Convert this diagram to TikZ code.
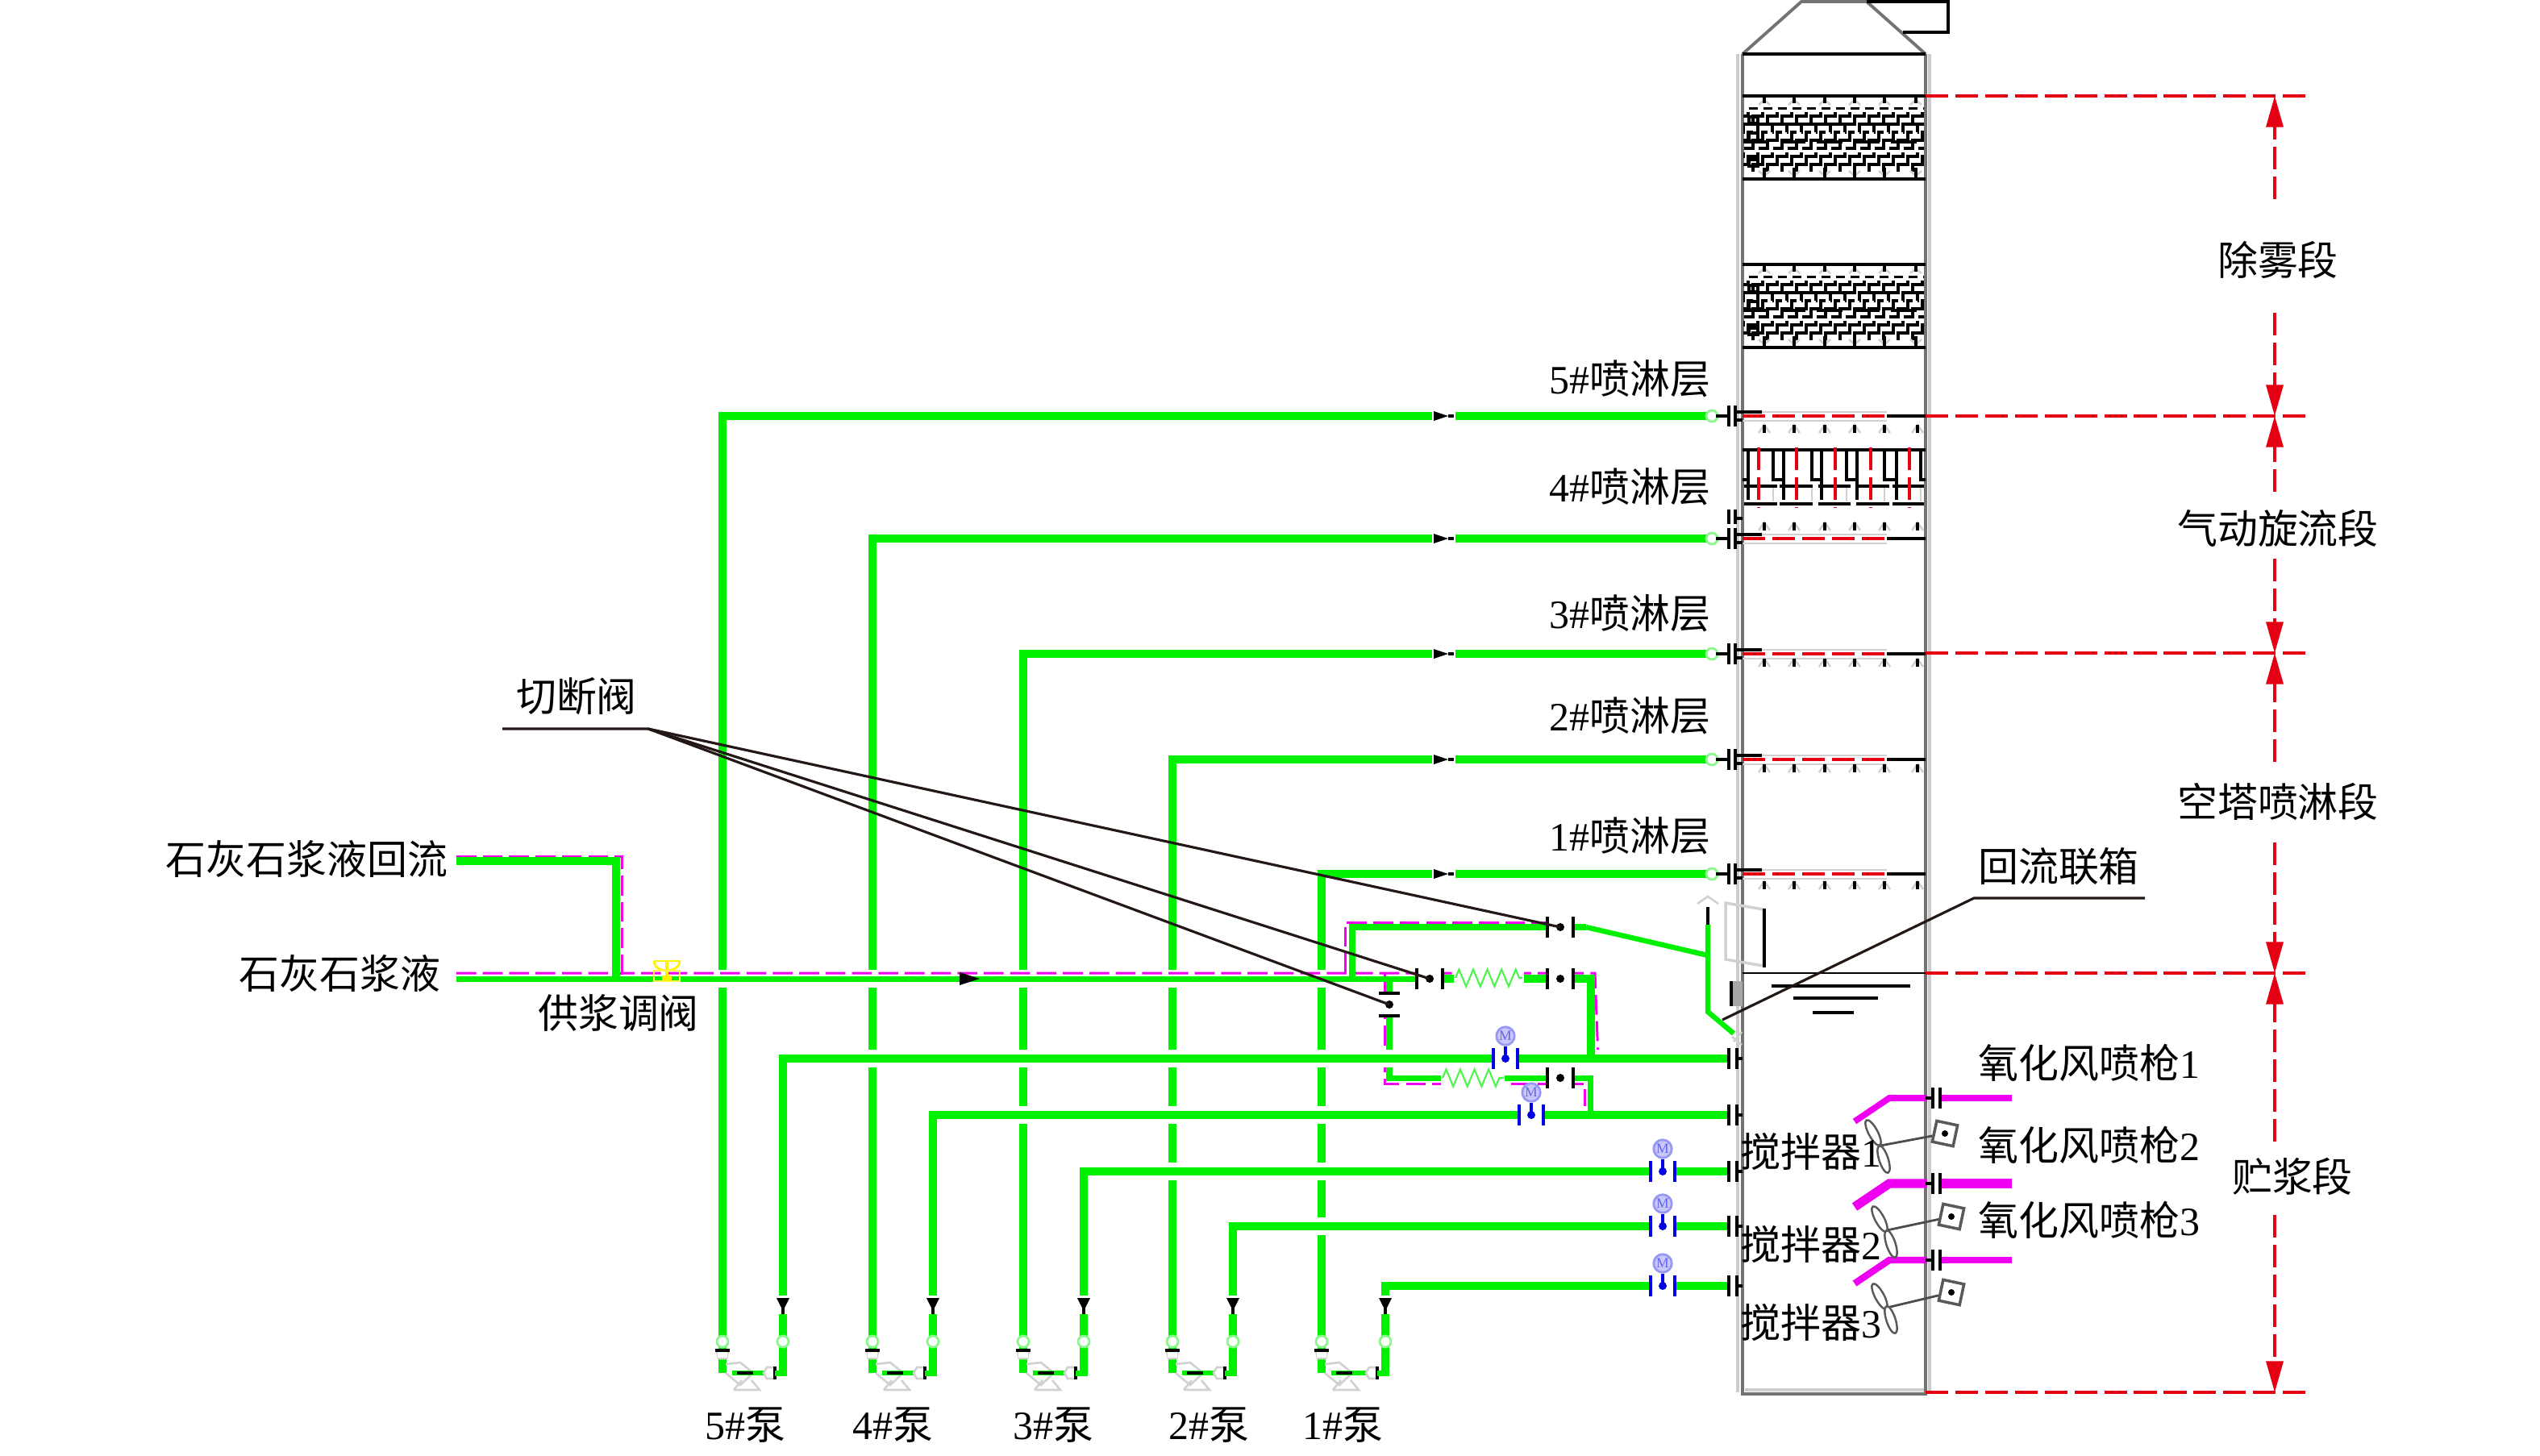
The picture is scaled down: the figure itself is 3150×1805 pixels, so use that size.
\documentclass[tikz,border=0pt]{standalone}
\usepackage{fontspec}
\setmainfont{Liberation Serif}
\newfontfamily\cjk{Noto Sans CJK SC}
\usetikzlibrary{shapes.geometric, arrows.meta, decorations.pathmorphing}
\definecolor{pipegreen}{RGB}{0,240,0}
\definecolor{airpink}{RGB}{240,0,240}
\definecolor{secred}{RGB}{228,0,18}
\definecolor{meterblue}{RGB}{0,0,225}
\definecolor{leaderdark}{RGB}{35,24,21}

\begin{document}
\begin{tikzpicture}[
    x=0.01cm, y=-0.01cm,
    every node/.style={font=\fontsize{14.2}{16}\selectfont, inner sep=0pt},
    pipe/.style={draw=pipegreen, line width=2.8pt},
    thinpipe/.style={draw=pipegreen, line width=2pt},
    casing/.style={draw=white, line width=6.3pt},
    slurry/.style={draw=airpink, line width=0.85pt, dash pattern=on 7pt off 2.3pt},
    air/.style={draw=airpink, line width=2.4pt},
    wall/.style={draw=black!55, line width=1.1pt},
    wallshade/.style={draw=black!20, line width=1pt},
    blackline/.style={draw=black, line width=0.95pt},
    faint/.style={draw=black!18, line width=0.75pt},
    flange/.style={draw=black, line width=0.9pt},
    maze/.style={draw=black, line width=1pt},
    secline/.style={draw=secred, line width=0.9pt, dash pattern=on 8pt off 2.5pt},
    dimline/.style={secline, -{Triangle[length=11pt, width=6pt]}},
    leader/.style={draw=leaderdark, line width=0.9pt},
    blade/.style={draw=black!65, ellipse, fill=white, line width=0.7pt, minimum width=10pt, minimum height=3.2pt},
    motor/.style={draw=black!65, fill=white, line width=1pt, minimum size=7.5pt, rotate=-12},
    ring/.style={draw=pipegreen!45, fill=white, line width=0.8pt, circle, minimum size=4pt},
    meter/.style={draw=meterblue!40, fill=meterblue!22, line width=0.8pt, circle, minimum size=6.4pt}
]
% Tower shell and roof
\draw[wallshade] (2155,67) -- (2155,1727);
\draw[wallshade] (2393,67) -- (2393,1727);
\draw[wall] (2161,67) -- (2161,1729) -- (2388,1729) -- (2388,67);
\draw[wallshade] (2164,1724) -- (2386,1724);
\draw[wall] (2161,67) -- (2234,2) -- (2315,2) -- (2388,67);
\draw[blackline] (2315,2) -- (2416,2) -- (2416,40) -- (2360,40);
\draw[blackline] (2161,67) -- (2388,67);
% Demister beds
\foreach \dy in {0,209} {
  \begin{scope}[shift={(0,\dy)}]
    \draw[blackline] (2161,119) -- (2388,119);
    \draw[blackline] (2161,222) -- (2388,222);
    \begin{scope}
      \clip (2162,133) rectangle (2386,212);
      \foreach \sx in {2048,2066,...,2390}
        \draw[maze, dash pattern=on 14pt off 1.6pt] (\sx,214) |- ++(12,-10) |- ++(12,-10) |- ++(12,-10) |- ++(12,-10) |- ++(12,-10) |- ++(12,-10) |- ++(12,-10) |- ++(12,-10);
      \draw[maze, dash pattern=on 11pt off 3pt] (2162,154) -- (2386,154);
      \draw[maze, dash pattern=on 9pt off 4pt] (2162,176) -- (2386,176);
      \draw[maze] (2169,145) rectangle (2180,153);
      \draw[maze] (2169,165) rectangle (2180,175);
      \draw[maze] (2169,198) rectangle (2180,206);
    \end{scope}
    \foreach \nx in {2188,2225,2263,2300,2337,2376} {
      \draw[faint] (\nx-7,130) -- (\nx,124) -- (\nx+7,130);
      \draw[faint] (\nx-7,212) -- (\nx,218) -- (\nx+7,212);
      \draw[maze] (\nx,119) -- (\nx,128);
      \draw[maze] (\nx,208) -- (\nx,222);
    }
  \end{scope}
}
% Swirl section
\draw[blackline] (2161,558) -- (2388,558);
\draw[blackline] (2161,595) -- (2168,595);
\foreach \la/\lb/\lc in {2168/2199/2212, 2212/2247/2259, 2259/2290/2303, 2303/2337/2352, 2352/2382/2388} {
  \draw[blackline] (\la,558) -- (\la,620);
  \draw[blackline] (\lb,558) -- (\lb,595) -- (\lc,595);
  \draw[faint] (\lb,603) -- (\lb,622);
}
\foreach \sa/\sb in {2163/2204, 2207/2248, 2255/2295, 2302/2343, 2347/2386} {
  \draw[blackline] (\sa,603) -- (\sb,603);
  \draw[blackline] (\sa,625) -- (\sb,625);
}
\foreach \rx in {2181,2228,2276,2320,2368}
  \draw[secline] (\rx,555) -- (\rx,630);
% Spray levels inside the tower
\foreach \ly/\ny in {516/532, 668/653, 811/822, 942/953, 1084/1098} {
  \draw[faint] (2161,\ly-5) -- (2340,\ly-5);
  \draw[faint] (2161,\ly+6) -- (2340,\ly+6);
  \draw[blackline] (2340,\ly) -- (2388,\ly);
  \draw[secline] (2161,\ly) -- (2343,\ly);
  \foreach \nx in {2188,2225,2263,2300,2337,2378} {
    \draw[faint] (\nx-7,\ny+5) -- (\nx,\ny-5) -- (\nx+7,\ny+5);
    \draw[maze] (\nx,\ny-5) -- (\nx,\ny+5);
  }
}
% Header box and liquid level
\draw[faint, line width=1pt] (2140,1120) -- (2187,1128) -- (2187,1198) -- (2140,1190) -- cycle;
\draw[blackline] (2188,1127) -- (2188,1200);
\draw[blackline, line width=0.7pt] (2161,1207) -- (2388,1207);
\draw[blackline] (2197,1223) -- (2369,1223);
\draw[blackline] (2224,1238) -- (2329,1238);
\draw[blackline] (2248,1256) -- (2299,1256);
\fill[black!35] (2149,1217) rectangle (2161,1248);
\draw[flange] (2147,1217) -- (2147,1248);
% Section dimension lines
\foreach \sy in {119,516,810,1207,1727}
  \draw[secline] (2388,\sy) -- (2862,\sy);
\foreach \ya/\gapa/\gapb/\yb in {119/247/388/516, 516/610/693/810, 810/945/1045/1207, 1207/1416/1507/1727} {
  \coordinate (dimTop\ya) at (2821,\ya);
  \coordinate (dimBot\ya) at (2821,\yb);
  \draw[dimline] (2821,\gapa) -- (dimTop\ya);
  \draw[dimline] (2821,\gapb) -- (dimBot\ya);
}
\node (secDemist) at (2825,322) {\cjk 除雾段};
\node (secSwirl) at (2825,655) {\cjk 气动旋流段};
\node (secSpray) at (2825,994) {\cjk 空塔喷淋段};
\node (secStore) at (2843,1459) {\cjk 贮浆段};
% Suction lines up to the spray levels
\foreach \n/\lx/\rx/\topy/\risey in {5/896/971/516/1313, 4/1082/1157/668/1383, 3/1269/1344/811/1453, 2/1454/1529/942/1521, 1/1639/1718/1084/1595} {
  \coordinate (suck\n) at (\lx,1703);
  \coordinate (head\n) at (\lx,\topy);
  \coordinate (nozzle\n) at (2118,\topy);
  \draw[pipe] (suck\n) -- (head\n) -- (nozzle\n);
  \fill[white] (1776,\topy-7) rectangle (1805,\topy+7);
  \fill[black] (1778,\topy-6) -- (1796,\topy) -- (1778,\topy+6) -- cycle;
  \draw[maze] (1796,\topy) -- (1803,\topy);
  \node[ring] (ringTop\n) at (2123,\topy) {};
  \draw[flange] (2128,\topy) -- (2144,\topy);
  \draw[flange] (2144,\topy-13) -- (2144,\topy+13);
  \draw[flange] (2152,\topy-13) -- (2152,\topy+13);
  \draw[flange] (2152,\topy-5) -- (2185,\topy-5);
  \draw[flange] (2152,\topy+5) -- (2161,\topy+5);
}
\draw[flange] (2144,632) -- (2144,650);
\draw[flange] (2152,632) -- (2152,650);
\draw[flange] (2152,643) -- (2161,643);
% Slurry supply and return
\draw[thinpipe, draw=none] (566,1214) -- (1757,1214);
\draw[casing] (780,1214) -- (1750,1214);
\coordinate (supplyIn) at (566,1214);
\coordinate (returnIn) at (566,1068);
\coordinate (returnDn) at (764,1068);
\coordinate (returnJn) at (764,1214);
\coordinate (loopL) at (1723,1214);
\coordinate (loopLB) at (1723,1337);
\coordinate (loopLE) at (1972,1337);
\coordinate (loopLD) at (1972,1383);
\coordinate (topUp) at (1677,1214);
\coordinate (topCr) at (1677,1150);
\coordinate (topVl) at (1919,1150);
\coordinate (topOut) at (1967,1150);
\coordinate (hdrJn) at (2118,1185);
\coordinate (hdrTop) at (2118,1147);
\coordinate (hdrKink) at (2118,1255);
\coordinate (hdrEnd) at (2150,1282);
\coordinate (midE) at (1973,1214);
\coordinate (midD) at (1973,1313);
\draw[thinpipe] (loopL) -- (loopLB) -- (loopLE) -- (loopLD);
\draw[slurry] (566,1207) -- (1978,1207) -- (1982,1313);
\draw[slurry] (566,1062) -- (771,1062) -- (771,1214);
\draw[slurry] (1668,1207) -- (1668,1144) -- (1919,1144);
\draw[slurry] (1717,1207) -- (1717,1344) -- (1965,1344) -- (1965,1383);
% Return lines from the pumps into the tower
\foreach \n/\lx/\rx/\topy/\risey in {5/896/971/516/1313, 4/1082/1157/668/1383, 3/1269/1344/811/1453, 2/1454/1529/942/1521, 1/1639/1718/1084/1595} {
  \coordinate (riserBase\n) at (\rx,1707);
  \coordinate (riserTop\n) at (\rx,\risey);
  \coordinate (riserEnd\n) at (2144,\risey);
  \draw[casing] (\rx+8,\risey) -- (riserEnd\n);
  \draw[pipe] (riserBase\n) -- (riserTop\n) -- (riserEnd\n);
  \draw[flange] (2144,\risey-13) -- (2144,\risey+13);
  \draw[flange] (2154,\risey-13) -- (2154,\risey+13);
  \draw[flange] (2154,\risey) -- (2161,\risey);
  % flow mark on the riser
  \fill[white] (\rx-7,1607) rectangle (\rx+7,1630);
  \fill[black] (\rx-8,1610) -- (\rx+8,1610) -- (\rx,1626) -- cycle;
  \draw[maze] (\rx,1618) -- (\rx,1630);
  \node[ring] (ringR\n) at (\rx,1664) {};
  \node[ring] (ringL\n) at (\lx,1664) {};
  % pump body
  \draw[faint] (\lx+4,1692) -- (\lx+22,1690) -- (\lx+38,1703) -- (\lx+22,1718) -- (\lx+4,1703);
  \draw[faint] (\lx+14,1724) -- (\lx+46,1724) -- (\lx+36,1712);
  \draw[faint] (\lx+14,1724) -- (\lx+24,1712);
  \draw[faint] (\lx-7,1675) -- (\lx-5,1685) -- (\lx+5,1685) -- (\lx+7,1675);
  \fill[white] (\lx-6,1676) rectangle (\lx+6,1684);
  \draw[flange] (\lx-9,1675) -- (\lx+9,1675);
  \draw[pipe, draw=pipegreen, line width=1.6pt] (\lx+12,1703) -- (\rx-24,1703);
  \draw[flange, line width=1.4pt] (\lx+18,1703) -- (\lx+38,1703);
  \fill[white] (\rx-24,1696) rectangle (\rx-10,1710);
  \draw[faint] (\rx-10,1696) -- (\rx-20,1696) -- (\rx-24,1703) -- (\rx-20,1710) -- (\rx-10,1710);
  \draw[flange] (\rx-10,1695) -- (\rx-10,1711);
  \draw[pipe, line width=2pt] (\rx-10,1703) -- (\rx+4,1703);
}
% Supply header, return branch and loop
\draw[thinpipe] (supplyIn) -- (1757,1214);
\draw[pipe] (returnIn) -- (returnDn) -- (returnJn);
\draw[pipe, line width=2.2pt] (topUp) -- (topCr) -- (topVl);
\draw[pipe, line width=2.2pt] (topOut) -- (1952,1150);
\draw[pipe, line width=1.8pt] (topOut) -- (hdrJn);
\draw[pipe, line width=1.8pt] (hdrTop) -- (hdrKink) -- (hdrEnd);
\draw[blackline] (2118,1125) -- (hdrTop);
\draw[faint] (2105,1121) -- (2118,1112) -- (2131,1121);
\draw[faint] (2148,1286) -- (2160,1296);
\draw[faint] (2160,1280) -- (2150,1292);
\draw[pipe] (1789,1214) -- (1919,1214);
\draw[pipe] (1952,1214) -- (midE) -- (midD);
\draw[pipe, line width=2.2pt] (loopLE) ++(-20,0) -- (1952,1337);
\draw[thinpipe] (1789,1337) -- (1919,1337);
\draw[thinpipe] (1952,1337) -- (loopLE) -- (loopLD);
\fill[white] (1803,1205) rectangle (1890,1221);
\fill[white] (1787,1328) rectangle (1866,1346);
\draw[draw=pipegreen!70, line width=0.6pt, decorate, decoration={zigzag, amplitude=3pt, segment length=5pt}] (1805,1213) -- (1888,1213);
\draw[draw=pipegreen!70, line width=0.6pt, decorate, decoration={zigzag, amplitude=3pt, segment length=5pt}] (1789,1337) -- (1865,1337);
% Flow mark on the supply header
\fill[black] (1190,1206) -- (1215,1214) -- (1190,1222) -- cycle;
% Supply control valve
\draw[draw=yellow, line width=0.8pt] (811,1192) arc (180:360:16 and -12);
\draw[draw=yellow, line width=0.8pt] (811,1192) -- (844,1192);
\draw[draw=yellow, line width=1.2pt] (827,1192) -- (827,1214);
\draw[draw=yellow!70!white, line width=0.6pt] (811,1204) rectangle (843,1217);
\fill[yellow] (821,1210) rectangle (833,1217);
% Shut-off valves
\foreach \vn/\vx/\vy in {Top/1935/1150, Mid/1773/1214, Low/1935/1214, Bot/1935/1337} {
  \coordinate (valve\vn) at (\vx,\vy);
  \fill[white] (\vx-16,\vy-12) rectangle (\vx+16,\vy+12);
  \draw[flange] (\vx-16,\vy-13) -- (\vx-16,\vy+13);
  \draw[flange] (\vx+16,\vy-13) -- (\vx+16,\vy+13);
  \fill[black] (valve\vn) circle (5);
}
\coordinate (valveSide) at (1723,1246);
\fill[white] (1709,1233) rectangle (1737,1259);
\draw[flange] (1710,1232) -- (1736,1232);
\draw[flange] (1710,1260) -- (1736,1260);
\fill[black] (valveSide) circle (5);
% Motorised valves
\foreach \mn/\mx/\my in {a/1867/1313, b/1899/1383, c/2062/1453, d/2062/1521, e/2062/1595} {
  \fill[white] (\mx-14,\my-12) rectangle (\mx+14,\my+12);
  \draw[draw=meterblue, line width=1pt] (\mx-15,\my-13) -- (\mx-15,\my+13);
  \draw[draw=meterblue, line width=1pt] (\mx+15,\my-13) -- (\mx+15,\my+13);
  \node[meter] (meter\mn) at (\mx,\my-28) {};
  \node[text=meterblue!60, font=\fontsize{5}{5}\selectfont] (meterM\mn) at (meter\mn) {M};
  \draw[draw=meterblue, line width=1pt] (meter\mn.south) -- (\mx,\my);
  \fill[meterblue] (\mx,\my) circle (5);
}
% Oxidation air lances
\foreach \an/\ay/\ew in {1/1362/2.2pt, 2/1468/3.2pt, 3/1563/2.4pt} {
  \coordinate (lanceTip\an) at (2300,\ay+29);
  \coordinate (lanceBend\an) at (2343,\ay);
  \coordinate (lanceOut\an) at (2495,\ay);
  \draw[air, line width=\ew] (lanceTip\an) -- (lanceBend\an) -- (2390,\ay);
  \draw[air, line width=\ew] (2408,\ay) -- (lanceOut\an);
  \draw[flange] (2388,\ay) -- (2397,\ay);
  \draw[flange] (2397,\ay-13) -- (2397,\ay+13);
  \draw[flange] (2406,\ay-13) -- (2406,\ay+13);
}
% Agitators
\foreach \i/\hx/\hy/\ax/\ay/\bx/\by/\mx/\my in {1/2332/1421/2323/1405/2336/1438/2412/1406, 2/2340/1526/2331/1512/2345/1543/2420/1509, 3/2340/1622/2331/1608/2345/1637/2420/1603} {
  \node[motor] (motor\i) at (\mx,\my) {};
  \fill[black] (motor\i) circle (4);
  \coordinate (shaft\i) at (\hx,\hy);
  \draw[draw=black!70, line width=0.8pt] (shaft\i) -- (motor\i);
  \node[blade, rotate=-62] (bladeA\i) at (\ax,\ay) {};
  \node[blade, rotate=-72] (bladeB\i) at (\bx,\by) {};
}
% Labels
\node[anchor=east] (lab5) at (2122,470) {5\#\cjk 喷淋层};
\node[anchor=east] (lab4) at (2122,604) {4\#\cjk 喷淋层};
\node[anchor=east] (lab3) at (2122,761) {3\#\cjk 喷淋层};
\node[anchor=east] (lab2) at (2122,888) {2\#\cjk 喷淋层};
\node[anchor=east] (lab1) at (2122,1037) {1\#\cjk 喷淋层};
\node[anchor=east] (labReturn) at (556,1065) {\cjk 石灰石浆液回流};
\node[anchor=east] (labSupply) at (547,1207) {\cjk 石灰石浆液};
\node (labControl) at (767,1256) {\cjk 供浆调阀};
\node[anchor=west] (labLance1) at (2453,1318) {{\cjk 氧化风喷枪}1};
\node[anchor=west] (labLance2) at (2453,1420) {{\cjk 氧化风喷枪}2};
\node[anchor=west] (labLance3) at (2453,1513) {{\cjk 氧化风喷枪}3};
\node[anchor=west] (labMix1) at (2158,1428) {{\cjk 搅拌器}1};
\node[anchor=west] (labMix2) at (2158,1543) {{\cjk 搅拌器}2};
\node[anchor=west] (labMix3) at (2158,1640) {{\cjk 搅拌器}3};
\node (pumpLab5) at (924,1768) {5\#\cjk 泵};
\node (pumpLab4) at (1107,1768) {4\#\cjk 泵};
\node (pumpLab3) at (1306,1768) {3\#\cjk 泵};
\node (pumpLab2) at (1499,1768) {2\#\cjk 泵};
\node (pumpLab1) at (1665,1768) {1\#\cjk 泵};
% Leaders
\node (labCut) at (715,864) {\cjk 切断阀};
\coordinate (cutL) at (623,904);
\coordinate (cutR) at (804,904);
\draw[leader] (cutL) -- (cutR) -- (valveTop);
\draw[leader] (cutR) -- (valveMid);
\draw[leader] (cutR) -- (valveSide);
\node (labHeader) at (2553,1075) {\cjk 回流联箱};
\coordinate (hdrBarR) at (2660,1114);
\coordinate (hdrBarL) at (2448,1114);
\coordinate (hdrTip) at (2136,1265);
\draw[leader] (hdrBarR) -- (hdrBarL) -- (hdrTip);
\useasboundingbox (0,0) rectangle (3150,1805);
\end{tikzpicture}
\end{document}
